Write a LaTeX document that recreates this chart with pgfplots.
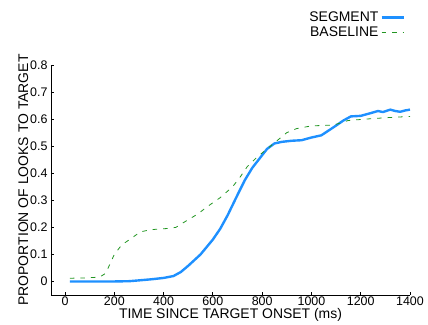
\documentclass[border=0pt]{standalone}
\usepackage{pgfplots}
\pgfplotsset{compat=1.18}
\usepackage{fontspec}
\setmainfont{Liberation Sans}
\usetikzlibrary{calc}
\definecolor{segblue}{RGB}{30,144,255}
\definecolor{basegreen}{RGB}{34,150,34}
\begin{document}
\begin{tikzpicture}
\begin{axis}[
  name=ax,
  scale only axis,
  width=359bp, height=230bp,
  xmin=-57, xmax=1400,
  ymin=-0.05, ymax=0.8,
  axis lines=left,
  axis line style={-, line width=0.8pt},
  tick style={black, line width=0.8pt},
  tick align=inside,
  major tick length=3bp,
  xtick={0,200,...,1400},
  ytick={0,0.1,...,0.8},
  yticklabels={0,0.1,0.2,0.3,0.4,0.5,0.6,0.7,0.8},
  /pgf/number format/assume math mode=true,
  /pgf/number format/1000 sep={},
  ticklabel style={font=\fontsize{12.5}{13}\selectfont},
  xticklabel style={yshift=2bp},
  label style={font=\fontsize{14}{15}\selectfont},
  xlabel={TIME SINCE TARGET ONSET (ms)},
  ylabel={PROPORTION OF LOOKS TO TARGET},
  xlabel style={yshift=3.5bp},
  ylabel style={yshift=-5bp},
  clip=false,
  legend style={at={(rel axis cs:0.986,1.24)}, anchor=north east, draw=none, fill=none,
    font=\fontsize{14}{14}\selectfont, inner sep=0pt, row sep=0pt},
  legend cell align=right,
  legend plot pos=right,
  legend image code/.code={\draw[#1] (0bp,0bp) -- (22bp,0bp);},
]
\addplot[segblue, line width=2.4pt, line join=round] coordinates {
(20,0) (100,0) (200,0) (260,0.001) (300,0.004) (350,0.008) (400,0.013) (440,0.02)
(470,0.035) (500,0.058) (550,0.1) (600,0.155) (630,0.195) (660,0.245) (700,0.32)
(730,0.375) (760,0.42) (790,0.455) (820,0.49) (850,0.51) (880,0.516) (920,0.52)
(960,0.522) (1000,0.532) (1040,0.54) (1090,0.57) (1130,0.595) (1160,0.61)
(1200,0.612) (1240,0.622) (1270,0.63) (1290,0.626) (1320,0.635) (1340,0.63)
(1360,0.627) (1380,0.632) (1400,0.635)
};
\addlegendentry{SEGMENT}
\addplot[basegreen, line width=0.8pt, dash pattern=on 4.5bp off 6bp] coordinates {
(20,0.012) (80,0.013) (140,0.016) (165,0.03) (185,0.07) (200,0.1) (230,0.135)
(270,0.16) (305,0.183) (340,0.19) (370,0.193) (420,0.196) (450,0.2) (494,0.225)
(540,0.25) (575,0.275) (630,0.31) (680,0.35) (710,0.385) (740,0.425) (780,0.46)
(820,0.49) (860,0.52) (900,0.55) (940,0.565) (1000,0.575) (1090,0.578)
(1150,0.595) (1220,0.6) (1300,0.605) (1400,0.61)
};
\addlegendentry{BASELINE}
\end{axis}
\path[use as bounding box] ($(ax.south west)+(-51bp,-28bp)$) rectangle ($(ax.north east)+(18bp,65bp)$);
\end{tikzpicture}
\end{document}
